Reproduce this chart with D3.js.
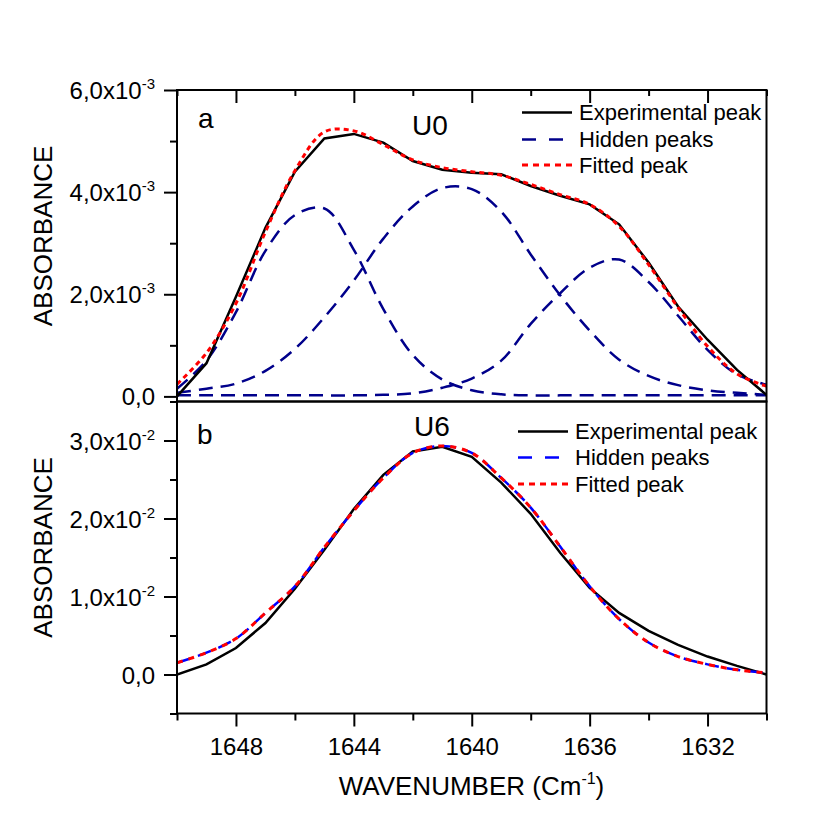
<!DOCTYPE html>
<html>
<head>
<meta charset="utf-8">
<script src="https://cdn.jsdelivr.net/npm/d3@7"></script>
<style>
  body { margin: 0; background: #fff; }
  text { font-family: "Liberation Sans", Arial, sans-serif; fill: #000; }
</style>
</head>
<body>
<svg id="chart" width="840" height="839"></svg>
<script>
// wavenumbers (cm-1)
const wavenumber = [1650, 1649, 1648, 1647, 1646, 1645, 1644, 1643, 1642, 1641, 1640,
                    1639, 1638, 1637, 1636, 1635, 1634, 1633, 1632, 1631, 1630];

// panel a : U0 (absorbance x 1e-3)
const expA  = [0.00, 0.65, 1.95, 3.30, 4.40, 5.05, 5.14, 4.97, 4.61, 4.44, 4.38,
               4.35, 4.12, 3.93, 3.76, 3.37, 2.62, 1.76, 1.11, 0.52, 0.03];
const fitA  = [0.24, 0.85, 1.82, 3.22, 4.42, 5.18, 5.20, 4.93, 4.63, 4.48, 4.40,
               4.33, 4.15, 3.95, 3.76, 3.33, 2.58, 1.74, 0.98, 0.44, 0.20];
const hidA1 = [0.15, 0.70, 1.65, 2.85, 3.55, 3.68, 2.87, 1.71, 0.81, 0.33, 0.12,
               0.04, 0.02, 0.02, 0.02, 0.02, 0.02, 0.02, 0.02, 0.02, 0.02];
const hidA2 = [0.07, 0.15, 0.25, 0.50, 0.93, 1.55, 2.27, 3.09, 3.72, 4.08, 4.06,
               3.62, 2.78, 1.98, 1.29, 0.72, 0.40, 0.22, 0.12, 0.07, 0.03];
const hidA3 = [0.02, 0.02, 0.02, 0.02, 0.02, 0.02, 0.02, 0.03, 0.06, 0.17, 0.35,
               0.70, 1.42, 2.02, 2.52, 2.68, 2.24, 1.58, 0.91, 0.43, 0.23];

// panel b : U6 (absorbance x 1e-2)
const expB = [0.00, 0.13, 0.34, 0.66, 1.10, 1.60, 2.12, 2.56, 2.86, 2.92, 2.79,
              2.46, 2.06, 1.56, 1.11, 0.79, 0.56, 0.38, 0.23, 0.11, 0.00];
const hidB = [0.15, 0.28, 0.46, 0.79, 1.13, 1.63, 2.10, 2.52, 2.84, 2.93, 2.84,
              2.52, 2.14, 1.64, 1.13, 0.71, 0.41, 0.23, 0.13, 0.06, 0.02];
const fitB = [0.15, 0.28, 0.46, 0.79, 1.13, 1.63, 2.10, 2.52, 2.84, 2.93, 2.84,
              2.52, 2.14, 1.64, 1.13, 0.71, 0.41, 0.23, 0.13, 0.06, 0.02];

// ticks
const xMajor = [1648, 1644, 1640, 1636, 1632];
const xMinor = [1650, 1646, 1642, 1638, 1634, 1630];
const yMajorA = [0, 2, 4, 6], yMinorA = [1, 3, 5];
const yMajorB = [0, 1, 2, 3], yMinorB = [-0.5, 0.5, 1.5, 2.5, 3.5];
const legendLabels = ["Experimental peak", "Hidden peaks", "Fitted peak"];

const svg = d3.select("#chart");
svg.append("rect").attr("width", 840).attr("height", 839).attr("fill", "#fff");

const left = 177, right = 766.5;
const x = d3.scaleLinear().domain([1650, 1630]).range([left, right]);
const yA = d3.scaleLinear().domain([-0.1, 6]).range([401.5, 90]);
const yB = d3.scaleLinear().domain([-0.5, 3.5]).range([713.5, 401.5]);

// clip paths
const defs = svg.append("defs");
defs.append("clipPath").attr("id", "clipA").append("rect")
  .attr("x", left).attr("y", 90).attr("width", right - left).attr("height", 311.5);
defs.append("clipPath").attr("id", "clipB").append("rect")
  .attr("x", left).attr("y", 401.5).attr("width", right - left).attr("height", 312);

const smooth = d3.curveCatmullRom.alpha(0.5);

function drawLine(g, vals, y, color, width, dash, curve) {
  const line = d3.line()
    .x((d, i) => x(wavenumber[i]))
    .y(d => y(d))
    .curve(curve);
  g.append("path")
    .attr("d", line(vals))
    .attr("fill", "none")
    .attr("stroke", color)
    .attr("stroke-width", width)
    .attr("stroke-dasharray", dash);
}

// panel a curves
const gA = svg.append("g").attr("clip-path", "url(#clipA)");
[hidA1, hidA2, hidA3].forEach(h => drawLine(gA, h, yA, "#00008b", 2.5, "14,8", smooth));
drawLine(gA, expA, yA, "#000", 2.5, null, d3.curveLinear);
drawLine(gA, fitA, yA, "#ff0000", 3, "5,4", smooth);

// panel b curves
const gB = svg.append("g").attr("clip-path", "url(#clipB)");
drawLine(gB, expB, yB, "#000", 2.5, null, d3.curveLinear);
drawLine(gB, hidB, yB, "#0000ff", 2.5, "14,8", smooth);
drawLine(gB, fitB, yB, "#ff0000", 3, "6,6", smooth);

// frames
svg.append("rect").attr("x", left).attr("y", 90).attr("width", right - left).attr("height", 311.5)
  .attr("fill", "none").attr("stroke", "#000").attr("stroke-width", 2);
svg.append("rect").attr("x", left).attr("y", 401.5).attr("width", right - left).attr("height", 312)
  .attr("fill", "none").attr("stroke", "#000").attr("stroke-width", 2);

function styleAxis(g) {
  g.attr("font-size", null).attr("font-family", null);
  g.select(".domain").remove();
  g.selectAll(".tick line").attr("stroke", "#000").attr("stroke-width", 2);
}

// y axes
function yAxis(y, major, minor, exp) {
  const gMin = svg.append("g").attr("transform", `translate(${left},0)`)
    .call(d3.axisLeft(y).tickValues(minor).tickSize(7).tickFormat(""));
  styleAxis(gMin);
  const gMaj = svg.append("g").attr("transform", `translate(${left},0)`)
    .call(d3.axisLeft(y).tickValues(major).tickSize(13));
  styleAxis(gMaj);
  gMaj.selectAll(".tick text").each(function(d) {
    const t = d3.select(this);
    t.text(null).attr("x", -22).attr("dy", null).attr("y", 8.5)
      .attr("font-size", 24).attr("text-anchor", "end");
    if (d === 0) {
      t.append("tspan").text("0,0");
    } else {
      t.append("tspan").text(d.toFixed(1).replace(".", ",") + "x10");
      t.append("tspan").attr("dy", -10).attr("font-size", 15).text(exp);
    }
  });
}
yAxis(yA, yMajorA, yMinorA, "-3");
yAxis(yB, yMajorB, yMinorB, "-2");

// bottom x axis
const xbMin = svg.append("g").attr("transform", "translate(0,713.5)")
  .call(d3.axisBottom(x).tickValues(xMinor).tickSize(7).tickFormat(""));
styleAxis(xbMin);
const xbMaj = svg.append("g").attr("transform", "translate(0,713.5)")
  .call(d3.axisBottom(x).tickValues(xMajor).tickSize(13).tickFormat(d3.format("d")));
styleAxis(xbMaj);
xbMaj.selectAll(".tick text").attr("y", 41).attr("dy", null).attr("font-size", 24);

// top x axis of panel a (inward ticks)
const xtMin = svg.append("g").attr("transform", "translate(0,90)")
  .call(d3.axisTop(x).tickValues(xMinor).tickSize(-6).tickFormat(""));
styleAxis(xtMin);
const xtMaj = svg.append("g").attr("transform", "translate(0,90)")
  .call(d3.axisTop(x).tickValues(xMajor).tickSize(-13).tickFormat(""));
styleAxis(xtMaj);

// axis titles
const xt = svg.append("text").attr("x", 471.5).attr("y", 795)
  .attr("text-anchor", "middle").attr("font-size", 26);
xt.append("tspan").text("WAVENUMBER (Cm");
xt.append("tspan").attr("dy", -11).attr("font-size", 16).text("-1");
xt.append("tspan").attr("dy", 11).text(")");

[236, 547.5].forEach(cy => {
  svg.append("text")
    .attr("transform", `translate(51.5,${cy}) rotate(-90)`)
    .attr("text-anchor", "middle").attr("font-size", 26)
    .text("ABSORBANCE");
});

// panel labels
svg.append("text").attr("x", 198).attr("y", 128).attr("font-size", 28).text("a");
svg.append("text").attr("x", 412).attr("y", 135).attr("font-size", 28).text("U0");
svg.append("text").attr("x", 197).attr("y", 444).attr("font-size", 28).text("b");
svg.append("text").attr("x", 414).attr("y", 436).attr("font-size", 28).text("U6");

// legends
function legend(x0, x1, ys, hiddenColor) {
  const styles = [
    { color: "#000", dash: null, w: 2.5 },
    { color: hiddenColor, dash: "14,13", w: 2.5 },
    { color: "#ff0000", dash: "6,5", w: 3 }
  ];
  legendLabels.forEach((lab, i) => {
    svg.append("line")
      .attr("x1", x0).attr("x2", x1).attr("y1", ys[i]).attr("y2", ys[i])
      .attr("stroke", styles[i].color).attr("stroke-width", styles[i].w)
      .attr("stroke-dasharray", styles[i].dash);
    svg.append("text").attr("x", x1 + 7).attr("y", ys[i] + 7.5)
      .attr("font-size", 22).text(lab);
  });
}
legend(522, 572, [112.5, 139.5, 165], "#00008b");
legend(518, 568, [431.5, 457.5, 484], "#0000ff");
</script>
</body>
</html>
